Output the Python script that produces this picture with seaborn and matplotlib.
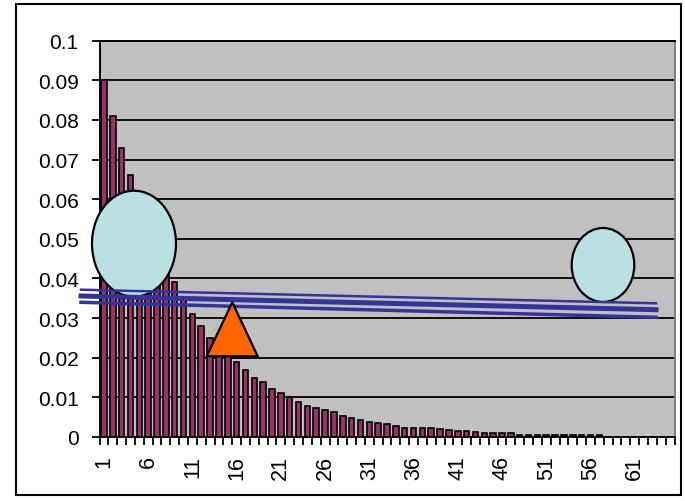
import numpy as np
import pandas as pd
import matplotlib
matplotlib.use("Agg")
import matplotlib.pyplot as plt
import seaborn as sns
from matplotlib.patches import Ellipse, Polygon, Rectangle
from matplotlib.lines import Line2D

# ---- data ----
categories = [str(i) for i in range(1, 66)]
values = [
    0.090, 0.081, 0.073, 0.066, 0.059, 0.053, 0.048, 0.043, 0.039, 0.035,
    0.031, 0.028, 0.025, 0.023, 0.021, 0.019, 0.017, 0.015, 0.014, 0.012,
    0.011, 0.010, 0.0088, 0.0078, 0.0072, 0.0067, 0.0062, 0.0052, 0.0048, 0.0042,
    0.0037, 0.0036, 0.0032, 0.0027, 0.0022, 0.0022, 0.0022, 0.0022, 0.0021, 0.0017,
    0.0016, 0.0016, 0.0012, 0.0011, 0.0011, 0.0011, 0.0011, 0.0004, 0.0004, 0.0004,
    0.0004, 0.0004, 0.0004, 0.0004, 0.0004, 0.0004, 0.0004, 0.0, 0.0, 0.0,
    0.0, 0.0, 0.0, 0.0, 0.0,
]
y_ticks = [0, 0.01, 0.02, 0.03, 0.04, 0.05, 0.06, 0.07, 0.08, 0.09, 0.1]
y_tick_labels = ["0", "0.01", "0.02", "0.03", "0.04", "0.05", "0.06", "0.07", "0.08", "0.09", "0.1"]
x_tick_labels = ["1", "6", "11", "16", "21", "26", "31", "36", "41", "46", "51", "56", "61"]

df = pd.DataFrame({"k": categories, "p": values})

W, H = 685, 502
fig = plt.figure(figsize=(W / 100, H / 100), dpi=100)
plt.rcParams["font.family"] = ["Liberation Sans", "DejaVu Sans"]

def fx(x):
    return x / W

def fy(y):
    return 1 - y / H

ax = fig.add_axes([fx(99.5), fy(438), (674.5 - 99.5) / W, (438 - 41.7) / H])
ax.set_facecolor("#C0C0C0")

sns.barplot(data=df, x="k", y="p", color="#993366", saturation=1,
            edgecolor="black", linewidth=1.2, width=0.62, ax=ax, zorder=3)

ax.set_xlim(-0.5, len(categories) - 0.5)
ax.set_ylim(0, 0.1)
ax.set_xlabel("")
ax.set_ylabel("")

ax.set_yticks(y_ticks)
ax.set_yticklabels(y_tick_labels, fontsize=15)
ax.yaxis.grid(True, color="black", linewidth=1.3, zorder=1)
ax.set_axisbelow(True)
ax.tick_params(axis="y", length=6, width=1.3, pad=9, colors="black")

ax.set_xticks(range(0, len(categories), 5))
ax.set_xticklabels(x_tick_labels, rotation=90, fontsize=15.5, va="top", ha="center")
ax.set_xticks(np.arange(-0.5, len(categories), 1), minor=True)
ax.tick_params(axis="x", which="major", length=0, pad=13)
ax.tick_params(axis="x", which="minor", length=6, width=1.3)

for s in ["left", "bottom", "top"]:
    ax.spines[s].set_color("black")
    ax.spines[s].set_linewidth(1.4)
ax.spines["right"].set_color("#808080")
ax.spines["right"].set_linewidth(1.4)

# ---- overlaid drawing shapes ----
def add(artist):
    fig.add_artist(artist)

# ellipses
add(Ellipse((fx(134), fy(244.7)), 84 / W, 106 / H, transform=fig.transFigure,
            facecolor="#BBE0E3", edgecolor="black", linewidth=1.6, zorder=5))
add(Ellipse((fx(603), fy(266)), 62.6 / W, 74 / H, transform=fig.transFigure,
            facecolor="#BBE0E3", edgecolor="black", linewidth=1.6, zorder=5))

# blue lines
for (x0, y0, x1, y1, lw) in [(81, 290.7, 656, 304.3, 1.8),
                             (81, 297.0, 656, 310.7, 3.6),
                             (81, 303.3, 656, 318.3, 2.5)]:
    add(Line2D([fx(x0), fx(x1)], [fy(y0), fy(y1)], transform=fig.transFigure,
               color="#333399", linewidth=lw, zorder=6))

# triangle
add(Polygon([(fx(232.3), fy(303.3)), (fx(206.7), fy(357.3)), (fx(257.7), fy(357.3))],
            closed=True, transform=fig.transFigure, facecolor="#FF6600",
            edgecolor="black", linewidth=1.6, zorder=7))

# outer frame
add(Rectangle((fx(16), fy(496)), (681 - 16) / W, (496 - 5) / H, transform=fig.transFigure,
              fill=False, edgecolor="black", linewidth=1.5, zorder=8))

fig.savefig("out.png", dpi=100)
